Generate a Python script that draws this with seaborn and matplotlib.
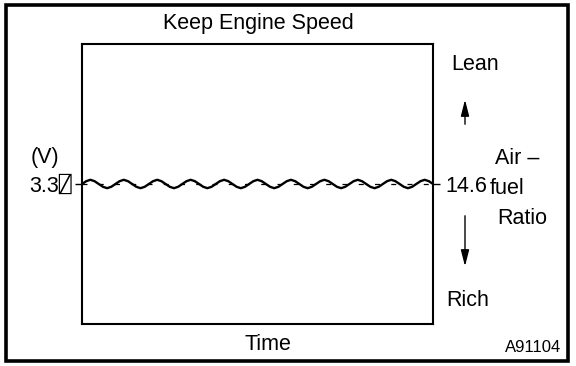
import numpy as np
import pandas as pd
import matplotlib
matplotlib.use("Agg")
import matplotlib.pyplot as plt
import seaborn as sns
from matplotlib.patches import Rectangle, FancyArrowPatch

# sensor voltage sampled 8x per oscillation while engine speed is held
volts = [
    3.30, 3.32, 3.33, 3.32, 3.30, 3.28, 3.27, 3.28,
    3.30, 3.32, 3.33, 3.32, 3.30, 3.28, 3.27, 3.28,
    3.30, 3.32, 3.33, 3.32, 3.30, 3.28, 3.27, 3.28,
    3.30, 3.32, 3.33, 3.32, 3.30, 3.28, 3.27, 3.28,
    3.30, 3.32, 3.33, 3.32, 3.30, 3.28, 3.27, 3.28,
    3.30, 3.32, 3.33, 3.32, 3.30, 3.28, 3.27, 3.28,
    3.30, 3.32, 3.33, 3.32, 3.30, 3.28, 3.27, 3.28,
    3.30, 3.32, 3.33, 3.32, 3.30, 3.28, 3.27, 3.28,
    3.30, 3.32, 3.33, 3.32, 3.30, 3.28, 3.27, 3.28,
    3.30, 3.32, 3.33, 3.32, 3.30, 3.28, 3.27, 3.28,
    3.30, 3.32, 3.33, 3.32, 3.30,
]
ref_volt = 3.3
ref_volt_label = "3.3\u2341"
afr_label = "14.6"
title = "Keep Engine Speed"
code = "A91104"

df = pd.DataFrame({"Time": np.arange(len(volts)), "Volt": volts})

sns.set_style("white")
plt.rcParams["font.family"] = ["Liberation Sans", "DejaVu Sans", "DejaVu Sans Mono"]
plt.rcParams["text.color"] = "black"
plt.rcParams["ytick.color"] = "black"

fig = plt.figure(figsize=(5.76, 3.66), dpi=100)
ax = fig.add_axes([0.1424, 0.1148, 0.6094, 0.765])

ax.axhline(ref_volt, color="black", lw=0.9, ls=(0, (4, 9)))
sns.lineplot(data=df, x="Time", y="Volt", ax=ax, color="black", lw=1.7)

ax.set_xlim(0, len(volts) - 1)
ax.set_ylim(2.3, 4.3)
ax.set_xlabel("")
ax.set_ylabel("")
for s in ax.spines.values():
    s.set_color("black")
    s.set_linewidth(1.5)

fs = 15.5
ax.set_xticks([])
ax.set_yticks([ref_volt])
ax.set_yticklabels([ref_volt_label], fontsize=fs)
ax.tick_params(axis="y", left=True, length=5, width=1, color="black", pad=2)

ax2 = ax.twinx()
ax2.set_ylim(ax.get_ylim())
ax2.set_yticks([ref_volt])
ax2.set_yticklabels([afr_label], fontsize=fs)
ax2.tick_params(axis="y", right=True, length=5, width=1, color="black", pad=4)
ax2.grid(False)
for s in ax2.spines.values():
    s.set_visible(False)

fig.text(258 / 576, 1 - 24 / 366, title, ha="center", va="center", fontsize=fs)
fig.text(268 / 576, 1 - 345 / 366, "Time", ha="center", va="center", fontsize=fs)
fig.text(45 / 576, 1 - 158 / 366, "(V)", ha="center", va="center", fontsize=fs)
fig.text(475 / 576, 1 - 65 / 366, "Lean", ha="center", va="center", fontsize=fs)
fig.text(468 / 576, 1 - 300 / 366, "Rich", ha="center", va="center", fontsize=fs)
fig.text(495 / 576, 1 - 158 / 366, "Air \u2013", ha="left", va="center", fontsize=fs)
fig.text(490 / 576, 1 - 189 / 366, "fuel", ha="left", va="center", fontsize=fs)
fig.text(497 / 576, 1 - 219 / 366, "Ratio", ha="left", va="center", fontsize=fs)
fig.text(561 / 576, 1 - 348 / 366, code, ha="right", va="center", fontsize=12)

# lean / rich arrows
for y0, y1 in [(127, 97), (213, 269)]:
    fig.add_artist(FancyArrowPatch(
        (465 / 576, 1 - y0 / 366), (465 / 576, 1 - y1 / 366),
        transform=fig.transFigure,
        arrowstyle="-|>,head_length=0.7,head_width=0.18",
        mutation_scale=14, color="black", lw=1))

# outer frame
fig.add_artist(Rectangle((6 / 576, 5 / 366), 562 / 576, 356 / 366,
                         transform=fig.transFigure, fill=False,
                         edgecolor="black", lw=2.6))

fig.savefig("out.png", dpi=100)
